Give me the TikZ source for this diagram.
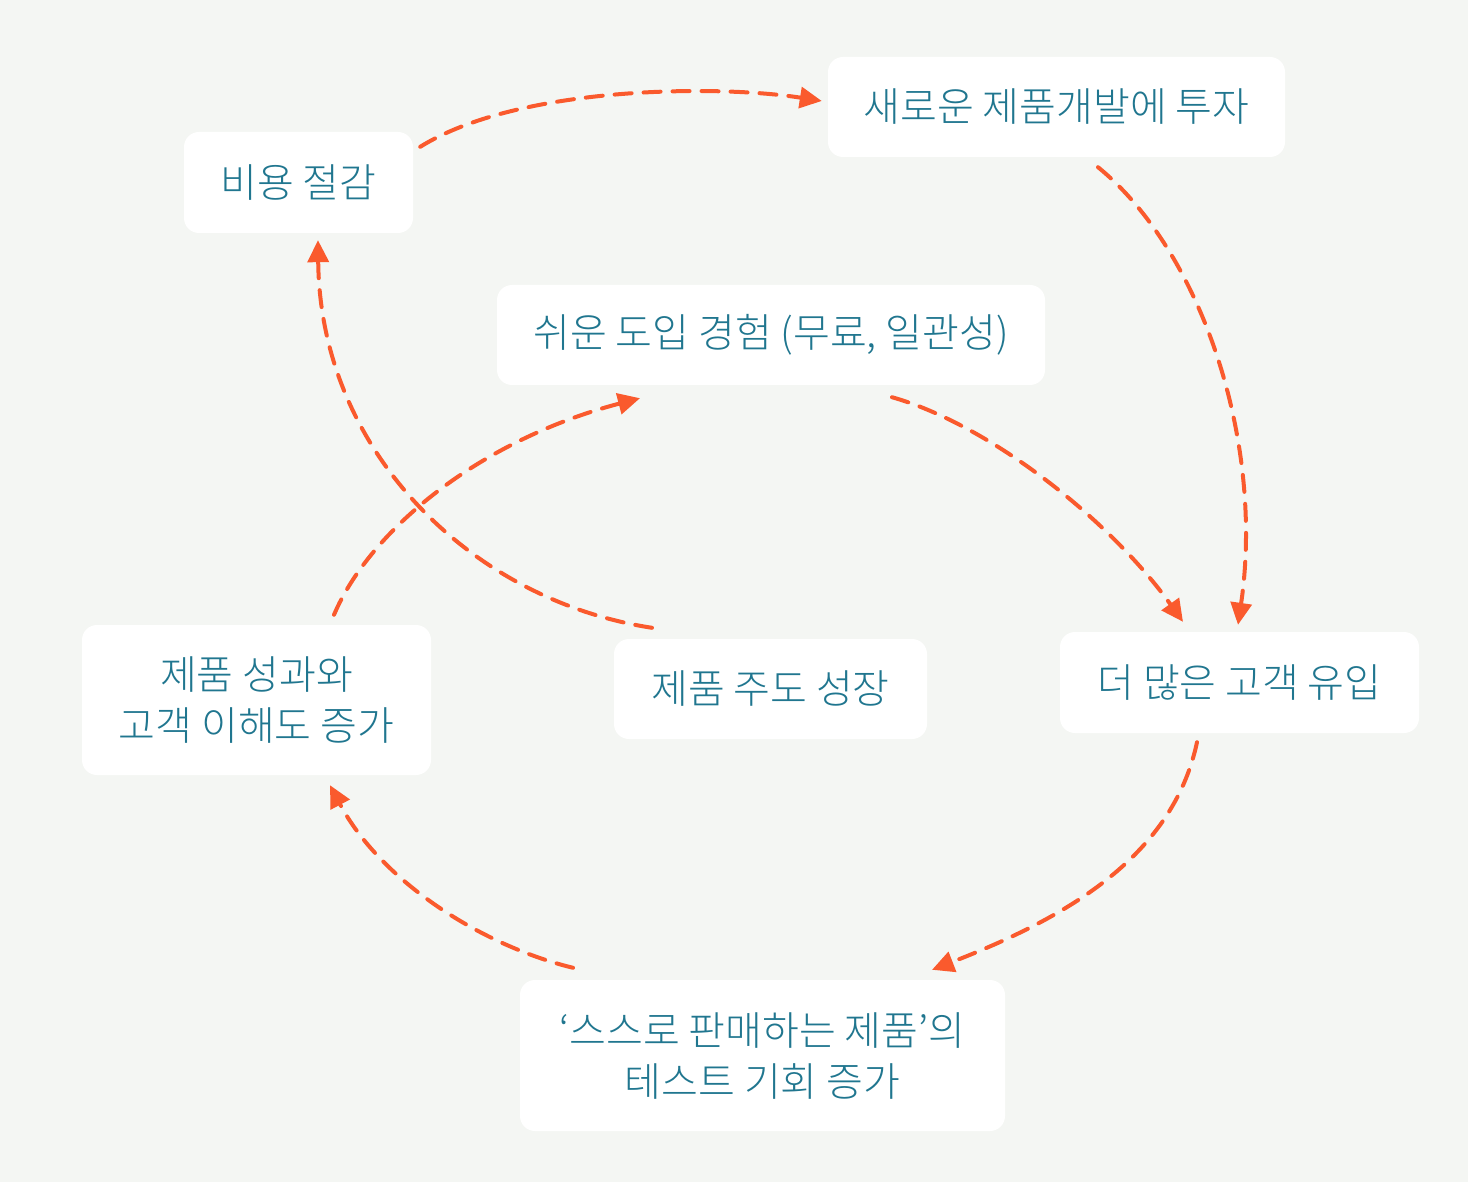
\documentclass[tikz,border=0pt]{standalone}
\usepackage{fontspec}
\setmainfont{Noto Sans CJK KR Light}
\usetikzlibrary{arrows.meta,calc}
\definecolor{bgc}{HTML}{F4F6F3}
\definecolor{txt}{HTML}{20768F}
\definecolor{arr}{HTML}{FA5A2D}
\tikzset{
  box/.style={fill=white, rounded corners=15pt, inner sep=0pt, align=center, text=txt,
    font=\fontsize{40}{51}\selectfont},
  loop/.style={draw=arr, line width=4pt, dash pattern=on 17pt off 12pt, line cap=round,
    -{Triangle[length=22pt,width=21pt]}}
}
\begin{document}
\begin{tikzpicture}[x=1pt,y=-1pt]
\fill[bgc] (0,0) rectangle (1468,1182);
\useasboundingbox (0,0) rectangle (1468,1182);
\node[box, minimum width=229pt, minimum height=101pt] (cost) at (298.5,182.5) {비용 절감};
\node[box, minimum width=457pt, minimum height=100pt] (invest) at (1056.5,107) {새로운 제품개발에 투자};
\node[box, minimum width=548pt, minimum height=100pt] (easy) at (771,335) {쉬운 도입 경험 (무료, 일관성)};
\node[box, minimum width=349pt, minimum height=150pt] (perf) at (256.5,700) {제품 성과와\\고객 이해도 증가};
\node[box, minimum width=313pt, minimum height=100pt] (plg) at (770.5,689) {제품 주도 성장};
\node[box, minimum width=359pt, minimum height=101pt] (more) at (1239.5,682.5) {더 많은 고객 유입};
\node[box, minimum width=485pt, minimum height=151pt] (test) at (762.5,1055.5) {‘스스로 판매하는 제품’의\\테스트 기회 증가};

% cost -> invest
\draw[loop] ($(cost.north east)+(7,15)$) .. controls (520,85) and (720,85) .. ($(invest.west)+(-6,-6)$);
% invest -> more
\draw[loop] ($(invest.south)+(41.5,10)$) .. controls (1200,250) and (1265,440) .. ($(more.north)+(-1.5,-7)$);
% easy -> more
\draw[loop] ($(easy.south)+(121,12)$) .. controls (990,425) and (1110,520) .. ($(more.north)+(-56.5,-10)$);
% more -> test
\draw[loop] ($(more.south)+(-42.5,9)$) .. controls (1172,860) and (1060,920) .. ($(test.north)+(169.5,-10)$);
% test -> perf
\draw[loop] ($(test.north)+(-189.5,-12)$) .. controls (480,945) and (380,880) .. ($(perf.south)+(73.5,10)$);
% perf -> easy
\draw[loop] ($(perf.north)+(77.5,-10)$) .. controls (370,530) and (480,440) .. ($(easy.south)+(-131,13)$);
% plg -> cost
\draw[loop] ($(plg.north)+(-118.5,-11)$) .. controls (470,600) and (320,450) .. ($(cost.south)+(19.5,7)$);
\end{tikzpicture}
\end{document}
